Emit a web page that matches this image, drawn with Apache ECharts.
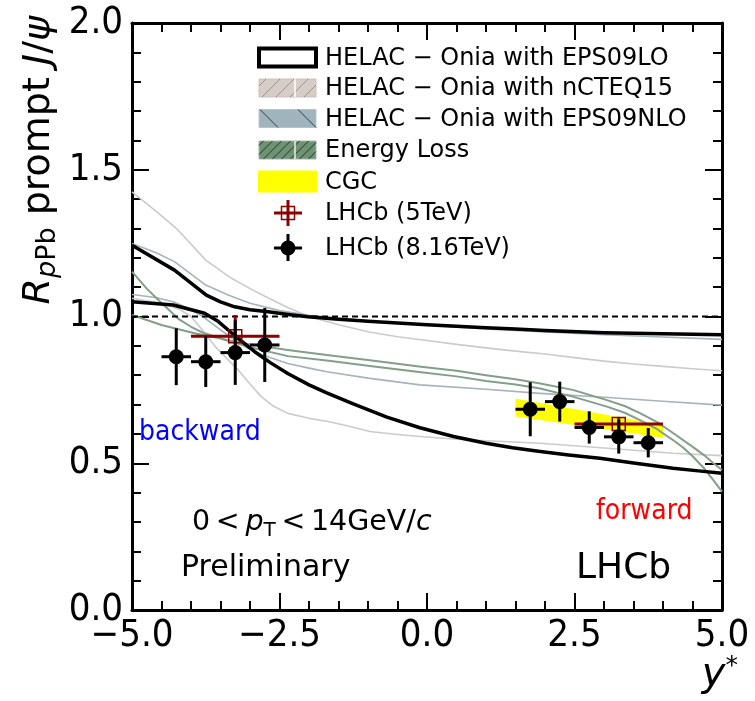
<!DOCTYPE html>
<html><head><meta charset="utf-8">
<script src="https://cdn.jsdelivr.net/npm/echarts@6/dist/echarts.min.js"></script>
<style>html,body{margin:0;padding:0;background:#fff}#c{width:755px;height:701px}</style>
</head><body><div id="c"></div>
<script>
// ---------------- data ----------------
const xTickLabels = ['−5.0', '−2.5', '0.0', '2.5', '5.0'];
const yTickLabels = ['0.0', '0.5', '1.0', '1.5', '2.0'];

// LHCb 8.16 TeV (black points)
const lhcb8X = [-4.25, -3.75, -3.25, -2.75, 1.75, 2.25, 2.75, 3.25, 3.75];
const lhcb8Y = [0.863, 0.846, 0.877, 0.903, 0.684, 0.710, 0.622, 0.590, 0.570];
const lhcb8YErr = [0.097, 0.086, 0.110, 0.126, 0.092, 0.068, 0.055, 0.057, 0.050];
const lhcb8XErr = [0.25, 0.25, 0.25, 0.25, 0.25, 0.25, 0.25, 0.25, 0.25];

// LHCb 5 TeV (red open squares)
const lhcb5X = [-3.25, 3.25];
const lhcb5Y = [0.933, 0.634];
const lhcb5YErr = [0.072, 0.024];
const lhcb5XErr = [0.75, 0.75];

// CGC band
const cgcX = [1.5, 4.0];
const cgcLow = [0.659, 0.587];
const cgcHigh = [0.721, 0.630];

// HELAC-Onia with EPS09LO (thick black)
const eps09loUpper = [[-5,1.243],[-4.28,1.158],[-3.74,1.073],[-3.5,1.05],[-3.26,1.033],[-3.0,1.023],[-2.69,1.016],[-2.35,1.007],[-2.02,0.999],[-1.5,0.991],[-1,0.984],[-0.5,0.978],[0,0.972],[0.5,0.967],[1,0.962],[1.5,0.957],[2,0.952],[3,0.945],[4,0.941],[5,0.938]];
const eps09loLower = [[-5,1.050],[-4.3,1.039],[-3.77,1.011],[-3.55,0.985],[-3.37,0.954],[-3.15,0.917],[-2.92,0.880],[-2.65,0.842],[-2.36,0.806],[-2.0,0.767],[-1.7,0.740],[-1.25,0.702],[-0.68,0.657],[-0.12,0.621],[0.45,0.591],[1.0,0.568],[1.45,0.553],[1.92,0.540],[2.4,0.528],[2.93,0.517],[3.5,0.501],[4.17,0.483],[4.6,0.474],[5,0.466]];
// HELAC-Onia with nCTEQ15 (light gray)
const ncteqUpper = [[-5,1.425],[-4.6,1.36],[-4.22,1.295],[-3.75,1.192],[-3.32,1.131],[-3.0,1.095],[-2.69,1.063],[-2.35,1.03],[-2.0,1.0],[-1.5,0.972],[-1.0,0.948],[-0.5,0.931],[0,0.918],[0.5,0.905],[1,0.893],[1.5,0.882],[2,0.872],[2.5,0.860],[3,0.848],[3.5,0.838],[4,0.830],[4.5,0.822],[5,0.815]];
const ncteqLower = [[-5,1.062],[-4.5,1.045],[-4.2,1.025],[-4,1.0],[-3.8,0.952],[-3.6,0.900],[-3.4,0.858],[-3.2,0.818],[-3.0,0.770],[-2.81,0.727],[-2.6,0.694],[-2.36,0.670],[-2.0,0.653],[-1.68,0.642],[-1.3,0.625],[-0.97,0.608],[-0.5,0.598],[-0.12,0.591],[0.5,0.582],[1.2,0.575],[1.92,0.568],[3.0,0.552],[4.17,0.534],[5,0.526]];
// HELAC-Onia with EPS09NLO (bluish gray)
const nloUpper = [[-5,1.249],[-4.6,1.218],[-4.28,1.187],[-3.75,1.107],[-3.37,1.073],[-3.0,1.045],[-2.5,1.020],[-2,1.004],[-1.5,0.994],[-1,0.985],[-0.5,0.977],[0,0.970],[1,0.958],[2,0.947],[3,0.938],[4,0.930],[5,0.922]];
const nloLower = [[-5,1.075],[-4.6,1.065],[-4.3,1.050],[-4.05,1.028],[-3.8,1.000],[-3.55,0.962],[-3.3,0.925],[-3.05,0.893],[-2.8,0.870],[-2.36,0.840],[-2.0,0.824],[-1.7,0.812],[-1,0.790],[-0.12,0.767],[1,0.752],[1.92,0.738],[3,0.725],[4,0.711],[5,0.698]];
// Energy loss (green)
const elossA = [[-5,1.153],[-4.75,1.095],[-4.5,1.046],[-4.2,0.990],[-4.0,0.965],[-3.8,0.945],[-3.4,0.920],[-3,0.905],[-2.36,0.886],[-1.7,0.869],[-0.9,0.849],[-0.1,0.829],[0.5,0.815],[1,0.800],[1.5,0.786],[1.92,0.772],[2.47,0.750],[3.05,0.715],[3.35,0.695],[3.61,0.671],[3.9,0.640],[4.17,0.603],[4.51,0.555],[4.7,0.527],[4.85,0.501],[5,0.477]];
const elossB = [[-5,1.005],[-4.5,0.971],[-3.94,0.943],[-3.5,0.925],[-3,0.895],[-2.36,0.865],[-1.7,0.850],[-0.9,0.830],[-0.1,0.810],[0.5,0.796],[1,0.780],[1.5,0.768],[1.92,0.755],[2.47,0.727],[3.05,0.693],[3.35,0.672],[3.61,0.647],[3.9,0.616],[4.17,0.579],[4.35,0.552],[4.51,0.522],[4.7,0.482],[4.85,0.443],[5,0.403]];

const legendLabels = ['HELAC − Onia with EPS09LO', 'HELAC − Onia with nCTEQ15', 'HELAC − Onia with EPS09NLO', 'Energy Loss', 'CGC', 'LHCb (5TeV)', 'LHCb (8.16TeV)'];

// ---------------- chart ----------------
const CF = "'DejaVu Sans Condensed', 'Liberation Sans', sans-serif";
const DF = "'DejaVu Sans', sans-serif";
const chart = echarts.init(document.getElementById('c'), null, {renderer: 'canvas'});

function tickFmt(labels, min, step) {
  return v => { const i = Math.round((v - min) / step); return labels[i] !== undefined ? labels[i] : ''; };
}
const axisCommon = {
  type: 'value',
  axisLine: {show: true, onZero: false, lineStyle: {color: '#000', width: 3}},
  axisTick: {show: true, inside: true, length: 17, lineStyle: {color: '#000', width: 2}},
  minorTick: {show: true, splitNumber: 5, length: 9, lineStyle: {color: '#000', width: 2}},
  splitLine: {show: false}, minorSplitLine: {show: false}
};
function xAx(pos, showLabel) {
  return Object.assign({}, axisCommon, {
    position: pos, min: -5, max: 5, interval: 2.5,
    axisLabel: {show: showLabel, color: '#000', fontFamily: CF, fontSize: 38, margin: 7,
      formatter: tickFmt(xTickLabels, -5, 2.5)}
  });
}
function yAx(pos, showLabel) {
  return Object.assign({}, axisCommon, {
    position: pos, min: 0, max: 2, interval: 0.5,
    axisLabel: {show: showLabel, color: '#000', fontFamily: CF, fontSize: 38, margin: 9,
      formatter: tickFmt(yTickLabels, 0, 0.5)}
  });
}

function curve(data, color, width, z) {
  return {type: 'line', data: data, symbol: 'none', smooth: false, silent: true, z: z,
    lineStyle: {color: color, width: width, join: 'round'}, xAxisIndex: 0, yAxisIndex: 0};
}

function errRender(color, kind) {
  return function (params, api) {
    const x = api.value(0), y = api.value(1), ex = api.value(2), ey = api.value(3);
    const c = api.coord([x, y]);
    const l = api.coord([x - ex, y]), r = api.coord([x + ex, y]);
    const t = api.coord([x, y + ey]), b = api.coord([x, y - ey]);
    const children = [
      {type: 'line', shape: {x1: l[0], y1: l[1], x2: r[0], y2: r[1]}, style: {stroke: color, lineWidth: 3}},
      {type: 'line', shape: {x1: t[0], y1: t[1], x2: b[0], y2: b[1]}, style: {stroke: color, lineWidth: 3}}
    ];
    if (kind === 'circle') {
      children.push({type: 'circle', shape: {cx: c[0], cy: c[1], r: 7.5}, style: {fill: color}});
    } else {
      children.push({type: 'rect', shape: {x: c[0] - 6.5, y: c[1] - 6.5, width: 13, height: 13}, style: {fill: 'none', stroke: color, lineWidth: 1.5}});
    }
    return {type: 'group', children: children};
  };
}

const cgcData = cgcX.map((x, i) => [x, cgcLow[i], cgcHigh[i]]);

const series = [
  {type: 'custom', z: 1, silent: true, data: cgcData, encode: {x: 0, y: [1, 2]},
    renderItem: function (params, api) {
      if (params.dataIndex !== 0) return null;
      const pts = [];
      for (let i = 0; i < cgcX.length; i++) pts.push(api.coord([cgcX[i], cgcHigh[i]]));
      for (let i = cgcX.length - 1; i >= 0; i--) pts.push(api.coord([cgcX[i], cgcLow[i]]));
      return {type: 'polygon', shape: {points: pts}, style: {fill: '#ffff00'}};
    }},
  curve(ncteqUpper, '#cbcbcb', 1.6, 2),
  curve(ncteqLower, '#cbcbcb', 1.6, 2),
  curve(nloUpper, '#a7b3ba', 1.6, 3),
  curve(nloLower, '#a7b3ba', 1.6, 3),
  curve(elossA, '#849e89', 2, 4),
  curve(elossB, '#849e89', 2, 4),
  curve(eps09loUpper, '#000', 3.5, 5),
  curve(eps09loLower, '#000', 3.5, 5),
  {type: 'line', data: [[-5, 1], [5, 1]], symbol: 'none', silent: true, z: 6,
    lineStyle: {color: '#000', width: 2, type: [6, 4]}},
  {type: 'custom', z: 8, silent: true, encode: {x: 0, y: 1},
    data: lhcb5X.map((x, i) => [x, lhcb5Y[i], lhcb5XErr[i], lhcb5YErr[i]]),
    renderItem: errRender('#8b0000', 'square')},
  {type: 'custom', z: 9, silent: true, encode: {x: 0, y: 1},
    data: lhcb8X.map((x, i) => [x, lhcb8Y[i], lhcb8XErr[i], lhcb8YErr[i]]),
    renderItem: errRender('#000', 'circle')}
];

// ---------------- legend & texts (graphic) ----------------
function hatch(x0, y0, w, h, step, dir, color, width) {
  const segs = [];
  if (dir === '/') {
    for (let c = x0 + y0 + step / 2; c < x0 + w + y0 + h; c += step) {
      const xa = Math.max(x0, c - (y0 + h)), xb = Math.min(x0 + w, c - y0);
      if (xb > xa) segs.push({type: 'line', shape: {x1: xa, y1: c - xa, x2: xb, y2: c - xb}, style: {stroke: color, lineWidth: width}});
    }
  } else {
    for (let c = x0 - (y0 + h) + step / 2; c < x0 + w - y0; c += step) {
      const xa = Math.max(x0, c + y0), xb = Math.min(x0 + w, c + y0 + h);
      if (xb > xa) segs.push({type: 'line', shape: {x1: xa, y1: xa - c, x2: xb, y2: xb - c}, style: {stroke: color, lineWidth: width}});
    }
  }
  return segs;
}
const rowY = [57.5, 88, 118.5, 150, 181.5, 213, 248];
const bx = 259, bw = 57, bh = 18;
const g = [];
// row 1
g.push({type: 'rect', shape: {x: bx, y: rowY[0] - bh / 2, width: bw, height: bh}, style: {fill: '#fff', stroke: '#000', lineWidth: 4}});
// row 2
g.push({type: 'rect', shape: {x: bx, y: rowY[1] - bh / 2, width: bw, height: bh}, style: {fill: '#d6cdc7', stroke: '#c9c1bb', lineWidth: 1}});
hatch(bx, rowY[1] - bh / 2, bw, bh, 14, '/', '#9a928c', 1).forEach(s => g.push(s));
g.push({type: 'line', shape: {x1: bx + 36, y1: rowY[1] - bh / 2, x2: bx + 36, y2: rowY[1] + bh / 2}, style: {stroke: '#fff', lineWidth: 1.5}});
// row 3
g.push({type: 'rect', shape: {x: bx, y: rowY[2] - bh / 2, width: bw, height: bh}, style: {fill: '#a0b4be', stroke: '#b8c4ca', lineWidth: 1}});
hatch(bx, rowY[2] - bh / 2, bw, bh, 38, '\\', '#2f3a40', 1).forEach(s => g.push(s));
// row 4
g.push({type: 'rect', shape: {x: bx, y: rowY[3] - bh / 2, width: bw, height: bh}, style: {fill: '#6f9275', stroke: '#a5b5a8', lineWidth: 1}});
hatch(bx, rowY[3] - bh / 2, bw, bh, 9, '/', '#24352a', 1).forEach(s => g.push(s));
g.push({type: 'line', shape: {x1: bx + 36, y1: rowY[3] - bh / 2, x2: bx + 36, y2: rowY[3] + bh / 2}, style: {stroke: '#e8eee8', lineWidth: 1.5}});
// row 5
g.push({type: 'rect', shape: {x: bx - 1, y: rowY[4] - 11, width: bw + 2, height: 22}, style: {fill: '#ffff00'}});
// row 6 red marker
const mx = 288;
g.push({type: 'line', shape: {x1: mx - 14, y1: rowY[5], x2: mx + 14, y2: rowY[5]}, style: {stroke: '#8b0000', lineWidth: 3}});
g.push({type: 'line', shape: {x1: mx, y1: rowY[5] - 13, x2: mx, y2: rowY[5] + 13}, style: {stroke: '#8b0000', lineWidth: 3}});
g.push({type: 'rect', shape: {x: mx - 6.5, y: rowY[5] - 6.5, width: 13, height: 13}, style: {fill: 'none', stroke: '#8b0000', lineWidth: 1.5}});
// row 7 black marker
g.push({type: 'line', shape: {x1: mx - 14, y1: rowY[6], x2: mx + 14, y2: rowY[6]}, style: {stroke: '#000', lineWidth: 3}});
g.push({type: 'line', shape: {x1: mx, y1: rowY[6] - 14, x2: mx, y2: rowY[6] + 13}, style: {stroke: '#000', lineWidth: 3}});
g.push({type: 'circle', shape: {cx: mx, cy: rowY[6], r: 7.5}, style: {fill: '#000'}});
legendLabels.forEach((t, i) => {
  g.push({type: 'text', x: 325, y: rowY[i] + 1, style: {text: t, fontFamily: DF, fontSize: 24, fill: '#000', align: 'left', verticalAlign: 'middle'}});
});

// y-axis title
g.push({type: 'text', x: 39, y: 16, rotation: Math.PI / 2,
  style: {text: '{i|R}{si|p}{s|Pb}{m| prompt }{i|J}{m|/}{i|ψ}', align: 'right', verticalAlign: 'middle',
    rich: {
      m: {fontFamily: DF, fontSize: 38, lineHeight: 44, fill: '#000'},
      i: {fontFamily: DF, fontSize: 38, fontStyle: 'italic', lineHeight: 44, fill: '#000'},
      s: {fontFamily: DF, fontSize: 27, lineHeight: 27, padding: [18, 0, 0, 0], fill: '#000'},
      si: {fontFamily: DF, fontSize: 27, fontStyle: 'italic', lineHeight: 27, padding: [18, 0, 0, 0], fill: '#000'}
    }}});
// x-axis title y*
g.push({type: 'text', x: 738, y: 676,
  style: {text: '{i|y}{s|*}', align: 'right', verticalAlign: 'middle',
    rich: {
      i: {fontFamily: DF, fontSize: 40, fontStyle: 'italic', lineHeight: 46, fill: '#000'},
      s: {fontFamily: DF, fontSize: 25, lineHeight: 25, padding: [0, 0, 20, 0], fill: '#000'}
    }}});
// kinematic range
g.push({type: 'text', x: 192, y: 523,
  style: {text: '{m|0\u2009<\u2009}{i|p}{s|T}{m|\u2009<\u200914GeV/}{i|c}', align: 'left', verticalAlign: 'middle',
    rich: {
      m: {fontFamily: DF, fontSize: 28.5, lineHeight: 36, fill: '#000'},
      i: {fontFamily: DF, fontSize: 28.5, fontStyle: 'italic', lineHeight: 36, fill: '#000'},
      s: {fontFamily: DF, fontSize: 20, lineHeight: 20, padding: [15, 0, 0, 0], fill: '#000'}
    }}});
g.push({type: 'text', x: 181, y: 568, style: {text: 'Preliminary', fontFamily: DF, fontSize: 30, fill: '#000', align: 'left', verticalAlign: 'middle'}});
g.push({type: 'text', x: 576, y: 569, style: {text: 'LHCb', fontFamily: DF, fontSize: 36, fill: '#000', align: 'left', verticalAlign: 'middle'}});
g.push({type: 'text', x: 139, y: 433, style: {text: 'backward', fontFamily: CF, fontSize: 28, fill: '#0000ff', align: 'left', verticalAlign: 'middle'}});
g.push({type: 'text', x: 596, y: 512, style: {text: 'forward', fontFamily: CF, fontSize: 28, fill: '#ff0000', align: 'left', verticalAlign: 'middle'}});

chart.setOption({
  animation: false,
  backgroundColor: '#fff',
  grid: {left: 132, right: 33, top: 23, bottom: 91, containLabel: false, outerBoundsMode: 'none'},
  xAxis: [xAx('bottom', true), xAx('top', false)],
  yAxis: [yAx('left', true), yAx('right', false)],
  series: series,
  graphic: {elements: g}
});
</script></body></html>
